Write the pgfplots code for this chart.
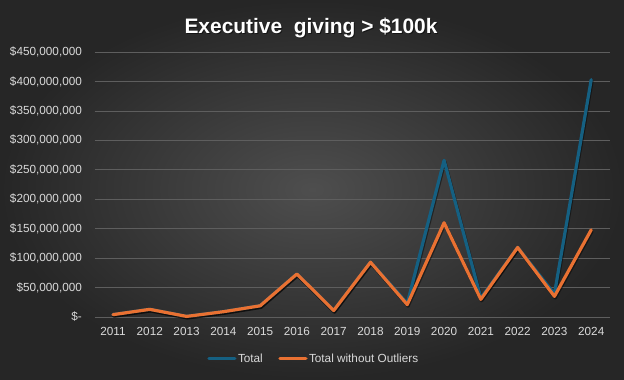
\documentclass[border=0pt]{standalone}
\usepackage{fontspec}
\setmainfont{Liberation Sans}
\usepackage{pgfplots}
\pgfplotsset{compat=1.18}
\definecolor{bgin}{HTML}{4E4E4E}
\definecolor{bgout}{HTML}{262626}
\definecolor{gridc}{HTML}{5E5E5E}
\definecolor{txt}{HTML}{D9D9D9}
\definecolor{seriesblue}{HTML}{156082}
\definecolor{seriesorange}{HTML}{E97132}
\begin{document}
\begin{tikzpicture}[x=1bp,y=1bp]
\shade[inner color=bgin, outer color=bgout] (0,0) rectangle (624,379);
\useasboundingbox (0,0) rectangle (624,379);
\node[black, opacity=0.5, font=\bfseries\fontsize{21}{24}\selectfont] at (312,350) {Executive \ giving > \$100k};
\node[white, font=\bfseries\fontsize{21}{24}\selectfont] at (311,351) {Executive \ giving > \$100k};
\begin{axis}[
  at={(94.6bp,62bp)}, anchor=south west,
  scale only axis, width=515bp, height=265bp,
  xmin=2010.5, xmax=2024.5, ymin=0, ymax=450,
  axis line style={draw=none},
  major tick length=0pt,
  xtick={2011,2012,2013,2014,2015,2016,2017,2018,2019,2020,2021,2022,2023,2024},
  xticklabels={2011,2012,2013,2014,2015,2016,2017,2018,2019,2020,2021,2022,2023,2024},
  ytick={0,50,100,150,200,250,300,350,400,450},
  yticklabels={{\$-\hspace{4bp}},{\$50,000,000},{\$100,000,000},{\$150,000,000},{\$200,000,000},{\$250,000,000},{\$300,000,000},{\$350,000,000},{\$400,000,000},{\$450,000,000}},
  ymajorgrids, grid style={gridc, line width=0.75bp},
  tick label style={text=txt, font=\fontsize{11.8}{14}\selectfont, inner sep=0pt},
  yticklabel style={anchor=east, xshift=-12.5bp},
  xticklabel style={anchor=north, yshift=-10bp},
  legend style={draw=none, fill=none, text=txt, font=\fontsize{11.8}{14}\selectfont,
    at={(0.425,-0.158)}, anchor=center, legend columns=2,
    /tikz/every even column/.append style={column sep=14bp},
    nodes={inner sep=1.5bp}},
  legend image code/.code={\draw[#1, line width=3.2bp] (0bp,0bp) -- (26bp,0bp);},
  every axis plot/.append style={line width=3.2bp, line join=round, line cap=round, mark=none},
  clip=false,
]
\addplot[black, opacity=0.45, forget plot, xshift=0.8bp, yshift=-1.5bp] coordinates {
(2011,4) (2012,13) (2013,1) (2014,9) (2015,19) (2016,73) (2017,11) (2018,93) (2019,23) (2020,266) (2021,32) (2022,118) (2023,39) (2024,403)};
\addplot[seriesblue] coordinates {
(2011,4) (2012,13) (2013,1) (2014,9) (2015,19) (2016,73) (2017,11) (2018,93) (2019,23) (2020,266) (2021,32) (2022,118) (2023,39) (2024,403)};
\addlegendentry{Total}
\addplot[black, opacity=0.45, forget plot, xshift=0.8bp, yshift=-1.5bp] coordinates {
(2011,4) (2012,13) (2013,1) (2014,9) (2015,19) (2016,73) (2017,11) (2018,93) (2019,21) (2020,160) (2021,30) (2022,118) (2023,35) (2024,148)};
\addplot[seriesorange] coordinates {
(2011,4) (2012,13) (2013,1) (2014,9) (2015,19) (2016,73) (2017,11) (2018,93) (2019,21) (2020,160) (2021,30) (2022,118) (2023,35) (2024,148)};
\addlegendentry{Total without Outliers}
\end{axis}
\end{tikzpicture}
\end{document}
